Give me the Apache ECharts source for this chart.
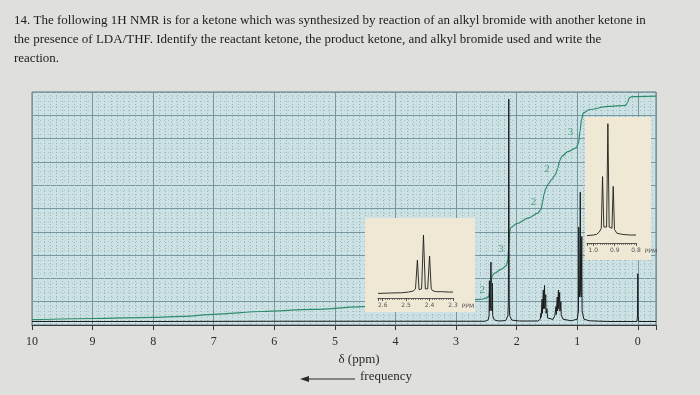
<!DOCTYPE html>
<html>
<head>
<meta charset="utf-8">
<script src="https://cdn.jsdelivr.net/npm/echarts@6/dist/echarts.min.js"></script>
<style>
html,body{margin:0;padding:0;background:#dfdfdc;}
#c{width:700px;height:395px;}
</style>
</head>
<body>
<div id="c"></div>
<script>
// ---------- text ----------
const questionLines = [
  '14. The following 1H NMR is for a ketone which was synthesized by reaction of an alkyl bromide with another ketone in',
  'the presence of LDA/THF. Identify the reactant ketone, the product ketone, and alkyl bromide used and write the',
  'reaction.'
];
const axisTitle = 'δ (ppm)';
const directionLabel = 'frequency';
const insetUnit = 'PPM';

// ---------- main spectrum [ppm, intensity] ----------
const spectrum = [
  [10, 1.5], [8, 1.5], [6, 1.6], [4, 1.6], [2.52, 1.6], [2.47, 2.2], [2.455, 4],
  [2.45, 19], [2.445, 6], [2.43, 7], [2.425, 27], [2.42, 7], [2.405, 6], [2.40, 18],
  [2.395, 4], [2.37, 2.2], [2.3, 1.7], [2.18, 1.9], [2.145, 4], [2.137, 10],
  [2.13, 97], [2.123, 10], [2.115, 4], [2.08, 2.1], [1.95, 1.7], [1.65, 1.7],
  [1.61, 2.5], [1.60, 5], [1.595, 3.5], [1.58, 11], [1.575, 5], [1.56, 15],
  [1.555, 7], [1.54, 17], [1.535, 7], [1.52, 13], [1.515, 5], [1.50, 7], [1.49, 3],
  [1.46, 2.2], [1.40, 2.4], [1.37, 4], [1.36, 3.2], [1.35, 8], [1.345, 4.5],
  [1.33, 12], [1.325, 6], [1.31, 15], [1.305, 7], [1.29, 14], [1.285, 6],
  [1.27, 10], [1.265, 4.5], [1.25, 5], [1.235, 2.5], [1.1, 1.8], [1.0, 2.5],
  [0.98, 6], [0.975, 42], [0.965, 12], [0.955, 15], [0.95, 57], [0.945, 15],
  [0.935, 12], [0.925, 38], [0.92, 6], [0.89, 2.5], [0.8, 1.8], [0.5, 1.5],
  [0.015, 1.5], [0.005, 4], [0, 22], [-0.005, 4], [-0.015, 1.5], [-0.3, 1.5]
];

// ---------- integral trace [ppm, height] ----------
const integral = [
  [10, 2.3], [9, 2.8], [8, 3.3], [7.5, 3.7], [7, 4.6], [6.2, 5.8], [5.35, 6.7],
  [4.45, 8], [3.5, 9.5], [2.6, 11], [2.5, 11.5], [2.46, 12.3], [2.44, 15.5],
  [2.42, 19], [2.40, 21.3], [2.36, 22.3], [2.25, 24], [2.17, 25.5], [2.145, 28],
  [2.13, 34], [2.115, 40], [2.10, 41.8], [2.0, 43.5], [1.8, 46], [1.65, 48],
  [1.6, 49.5], [1.57, 53], [1.55, 56], [1.52, 58.5], [1.48, 60.5], [1.42, 62.5],
  [1.36, 64.5], [1.32, 67.5], [1.29, 70.5], [1.25, 72.5], [1.15, 74.5], [1.02, 76],
  [0.98, 78], [0.955, 83], [0.93, 88], [0.90, 91], [0.8, 92.5], [0.5, 93.8],
  [0.2, 94.3], [0.17, 95.5], [0.14, 97.5], [0.1, 98], [-0.3, 98.2]
];

// integral numbers [ppm, height, text]
const integralMarks = [
  [2.57, 15, '2'], [2.26, 32.5, '3'], [1.72, 52.6, '2'], [1.50, 67, '2'], [1.11, 83, '3']
];

// ---------- expansion insets ----------
const insetA = [
  [2.62, 6.5], [2.58, 7], [2.52, 7.5], [2.49, 8.5], [2.47, 10], [2.46, 13],
  [2.452, 54], [2.445, 12], [2.434, 13], [2.426, 90], [2.418, 13], [2.408, 13],
  [2.40, 60], [2.393, 13], [2.385, 10], [2.37, 9], [2.355, 9], [2.35, 11],
  [2.345, 9], [2.32, 8.5], [2.3, 8.5]
];
const insetB = [
  [1.03, 6], [1.0, 6.5], [0.985, 7], [0.972, 9], [0.963, 12], [0.957, 54],
  [0.951, 13], [0.938, 13], [0.932, 97], [0.926, 13], [0.913, 12], [0.907, 46],
  [0.901, 11], [0.89, 8], [0.865, 7], [0.83, 6.5], [0.8, 6.5]
];

// ---------- styling ----------
const SERIF = 'Liberation Serif';
const INK = '#1c1c1c';
const GREEN = '#2e8c6c';
const PAPER = '#eee8d5';

const insetAxis = (min, max, gap) => ({
  type: 'value', inverse: true, min: min, max: max, interval: 0.1,
  axisLine: { show: true, onZero: false, lineStyle: { color: '#333', width: 0.8 } },
  axisTick: { show: true, length: 3, lineStyle: { color: '#333', width: 0.8 } },
  minorTick: { show: true, splitNumber: 10, length: 2, lineStyle: { color: '#444', width: 0.6 } },
  splitLine: { show: false },
  axisLabel: { fontSize: 6, color: '#555', margin: 4, fontFamily: 'DejaVu Sans',
    showMaxLabel: false, formatter: v => v.toFixed(1) },
  name: insetUnit, nameLocation: 'start', nameGap: gap,
  nameTextStyle: { fontSize: 6, color: '#555', fontFamily: 'DejaVu Sans', verticalAlign: 'top', padding: [5, 0, 0, 0] },
  z: 12
});

const chart = echarts.init(document.getElementById('c'));
chart.setOption({
  backgroundColor: '#dfdfdc',
  animation: false,
  title: {
    text: questionLines.join('\n'), left: 14, top: 11, padding: 0,
    textStyle: { fontFamily: SERIF, fontSize: 13, fontWeight: 'normal', color: INK, lineHeight: 19 }
  },
  grid: [
    { left: 32, right: 44, top: 92, bottom: 70, show: true, backgroundColor: '#cce1e4',
      borderColor: '#5d767b', borderWidth: 1 },
    { left: 378, right: 247, top: 228, bottom: 97 },
    { left: 587, right: 64, top: 120, bottom: 152 }
  ],
  xAxis: [
    { type: 'value', gridIndex: 0, inverse: true, min: -0.3, max: 10, splitNumber: 10,
      name: axisTitle, nameLocation: 'middle', nameGap: 26,
      nameTextStyle: { fontFamily: SERIF, fontSize: 13, color: '#2a2a2a', padding: [0, 0, 0, 30] },
      axisLine: { show: true, onZero: false, lineStyle: { color: '#3a3a3a', width: 1.2 } },
      axisTick: { show: true, length: 5, lineStyle: { color: '#3a3a3a' } },
      minorTick: { show: true, splitNumber: 10, length: 0, lineStyle: { opacity: 0 } },
      axisLabel: { fontFamily: SERIF, fontSize: 12, color: '#2a2a2a', margin: 11, showMinLabel: false },
      splitLine: { show: true, lineStyle: { color: '#7896a0', width: 1 } },
      minorSplitLine: { show: true, lineStyle: { color: '#99b5bb', width: 1, type: [1, 2] } }
    },
    Object.assign(insetAxis(2.3, 2.62, 8), { gridIndex: 1 }),
    Object.assign(insetAxis(0.8, 1.03, 6), { gridIndex: 2 })
  ],
  yAxis: [
    { type: 'value', gridIndex: 0, min: 0, max: 100, interval: 10,
      axisLine: { show: false }, axisTick: { show: false }, axisLabel: { show: false },
      minorTick: { show: true, splitNumber: 5, length: 0, lineStyle: { opacity: 0 } },
      splitLine: { show: true, lineStyle: { color: '#7896a0', width: 1 } },
      minorSplitLine: { show: true, lineStyle: { color: '#a9c2c7', width: 1, type: [1, 3] } }
    },
    { type: 'value', gridIndex: 1, min: 0, max: 100, show: false },
    { type: 'value', gridIndex: 2, min: 0, max: 100, show: false }
  ],
  graphic: [
    { type: 'rect', z: 8, shape: { x: 365, y: 218, width: 110, height: 94 }, style: { fill: PAPER } },
    { type: 'rect', z: 8, shape: { x: 585, y: 117, width: 66, height: 143 }, style: { fill: PAPER } },
    { type: 'line', z: 8, shape: { x1: 306, y1: 379, x2: 355, y2: 379 }, style: { stroke: '#2a2a2a', lineWidth: 1.2 } },
    { type: 'polygon', z: 8, shape: { points: [[300, 379], [309, 376], [309, 382]] }, style: { fill: '#2a2a2a' } },
    { type: 'text', z: 8, x: 360, y: 377, style: { text: directionLabel, fontFamily: SERIF, fontSize: 13,
        fill: '#2a2a2a', verticalAlign: 'middle', align: 'left' } }
  ],
  series: [
    { type: 'line', xAxisIndex: 0, yAxisIndex: 0, data: integral, symbol: 'none',
      smooth: 0.3, smoothMonotone: 'x', lineStyle: { color: GREEN, width: 1.2 }, z: 3 },
    { type: 'line', xAxisIndex: 0, yAxisIndex: 0, data: spectrum, symbol: 'none',
      lineStyle: { color: INK, width: 1 }, z: 4 },
    { type: 'scatter', xAxisIndex: 0, yAxisIndex: 0, data: integralMarks, symbolSize: 0,
      label: { show: true, position: 'inside', formatter: p => p.data[2],
        fontFamily: SERIF, fontSize: 11, color: GREEN }, z: 5 },
    { type: 'line', xAxisIndex: 1, yAxisIndex: 1, data: insetA, symbol: 'none',
      lineStyle: { color: INK, width: 0.9 }, z: 12 },
    { type: 'line', xAxisIndex: 2, yAxisIndex: 2, data: insetB, symbol: 'none',
      lineStyle: { color: INK, width: 0.9 }, z: 12 }
  ]
});
</script>
</body>
</html>
